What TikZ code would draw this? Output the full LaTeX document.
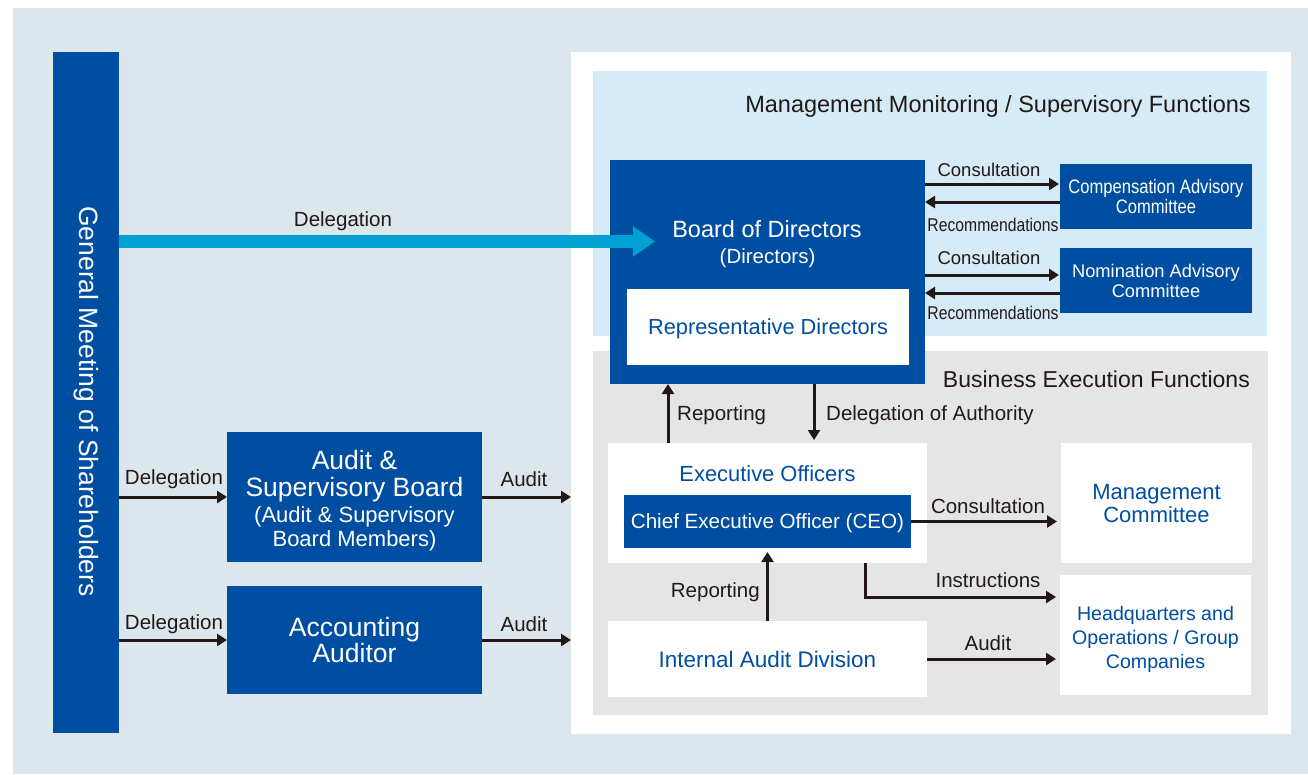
\documentclass[tikz,border=0pt]{standalone}
\usepackage{fontspec}
\setmainfont{Liberation Sans}
\newfontfamily\condfont{Liberation Sans}[FakeStretch=0.85]
\usetikzlibrary{arrows.meta}

\definecolor{pagebg}{HTML}{DCE6ED}
\definecolor{navy}{HTML}{004EA2}
\definecolor{paleblue}{HTML}{D5EBF8}
\definecolor{palegray}{HTML}{E5E5E5}
\definecolor{cyanarrow}{HTML}{00A0D2}
\definecolor{ink}{HTML}{231815}

\newcommand\fsz[2]{\fontsize{#1}{#2}\selectfont}

\tikzset{
  panel/.style={inner sep=0pt, outer sep=0pt, draw=none},
  navybox/.style={inner sep=0pt, outer sep=0pt, fill=navy, text=white, align=center, text depth=0pt},
  whitebox/.style={inner sep=0pt, outer sep=0pt, fill=white, text=navy, align=center, text depth=0pt},
  lbl/.style={text=ink, inner sep=0pt, font=\fsz{20.5}{22}},
  smalllbl/.style={text=ink, inner sep=0pt, font=\fsz{18.5}{20}},
  arr/.style={draw=ink, line width=3pt, -{Triangle[length=10pt,width=12pt]}},
  bigarr/.style={draw=cyanarrow, line width=13pt, -{Triangle[length=22pt,width=29pt]}},
}

\begin{document}
\begin{tikzpicture}[x=1pt, y=-1pt]
  \useasboundingbox (0,0) rectangle (1308,774);
  \fill[white] (0,0) rectangle (1308,774);
  \fill[pagebg] (13,8) rectangle (1308,774);

  % panels
  \node[panel, fill=white, minimum width=720pt, minimum height=682pt] (whitepanel) at (931,393) {};
  \node[panel, fill=paleblue, minimum width=674pt, minimum height=265pt] (bluepanel) at (930,203.5) {};
  \node[panel, fill=palegray, minimum width=675pt, minimum height=364pt] (graypanel) at (930.5,533) {};
  \node[text=ink, inner sep=0pt, anchor=east, font=\fsz{23.5}{25}] (montitle) at (1251,106) {Management Monitoring / Supervisory Functions};
  \node[text=ink, inner sep=0pt, anchor=east, font=\fsz{23}{25}] (exectitle) at (1250,379) {Business Execution Functions};

  % shareholders bar
  \node[navybox, minimum width=66pt, minimum height=681pt] (bar) at (86,392.5) {};
  \node[text=white, inner sep=0pt, rotate=-90, font=\fsz{26.5}{28}] (bartxt) at (86,401.5) {General Meeting of Shareholders};

  % board of directors
  \node[navybox, minimum width=315pt, minimum height=224pt] (board) at (767.5,272) {};
  \node[text=white, inner sep=0pt, text depth=0pt, font=\fsz{23.5}{26}] (boardtxt) at (767,229) {Board of Directors};
  \node[text=white, inner sep=0pt, text depth=0pt, font=\fsz{20.5}{24}] (boardsub) at (767.5,256) {(Directors)};
  \node[whitebox, minimum width=282pt, minimum height=76pt, font=\fsz{21.8}{24}] (repdir) at (768,327) {Representative Directors};

  % advisory committees
  \node[navybox, minimum width=192pt, minimum height=65pt, font=\condfont\fsz{19.5}{20.5}] (comp) at (1156,196.5) {Compensation Advisory\\Committee};
  \node[navybox, minimum width=192pt, minimum height=65pt, font=\fsz{18.3}{20}] (nom) at (1156,280.5) {Nomination Advisory\\Committee};

  % audit bodies
  \node[navybox, minimum width=255pt, minimum height=130pt] (asb) at (354.5,497) {};
  \node[text=white, inner sep=0pt, align=center, text depth=0pt, font=\fsz{26.5}{24}] (asbtxt) at (354.5,498.5)
    {\fsz{26.5}{24}Audit \&\\[3pt]\fsz{26.5}{24}Supervisory Board\\[2pt]\fsz{22}{24}(Audit \& Supervisory\\\fsz{22}{24}Board Members)};
  \node[navybox, minimum width=255pt, minimum height=108pt, font=\fsz{26.5}{26.5}] (acc) at (354.5,640) {Accounting\\Auditor};

  % execution side
  \node[whitebox, minimum width=319pt, minimum height=120pt] (exec) at (767.5,503) {};
  \node[text=navy, inner sep=0pt, text depth=0pt, font=\fsz{21.9}{24}] (exectxt) at (767.5,474) {Executive Officers};
  \node[navybox, minimum width=287pt, minimum height=53pt, font=\fsz{20.6}{22}] (ceo) at (767.5,521.5) {Chief Executive Officer (CEO)};
  \node[whitebox, minimum width=191pt, minimum height=120pt, font=\fsz{22}{23}] (mgmt) at (1156.5,503) {Management\\Committee};
  \node[whitebox, minimum width=191pt, minimum height=120pt] (hq) at (1155.5,635) {};
  \node[text=navy, inner sep=0pt, align=center, font=\fsz{19.6}{24}] (hqtxt) at (1155.5,639) {Headquarters and\\Operations / Group\\Companies};
  \node[whitebox, minimum width=319pt, minimum height=76pt, font=\fsz{22.5}{24}] (iad) at (767.5,659) {Internal Audit Division};

  % delegation from shareholders
  \coordinate (delegtip) at (655,241.5);
  \draw[bigarr] (bar.east |- delegtip) -- (delegtip);
  \node[lbl] (deleglbl) at (343,221) {Delegation};

  \draw[arr] (bar.east |- asb.west) -- (asb.west);
  \node[lbl] (delegasb) at (174,479) {Delegation};
  \draw[arr] (bar.east |- acc.west) -- (acc.west);
  \node[lbl] (delegacc) at (174,624) {Delegation};

  \draw[arr] (asb.east) -- (whitepanel.west |- asb.east);
  \node[lbl] (auditasb) at (524,479) {Audit};
  \draw[arr] (acc.east) -- (whitepanel.west |- acc.east);
  \node[lbl] (auditacc) at (524,624) {Audit};

  % board <-> advisory committees
  \draw[arr, shorten >=1pt] ([yshift=12.5pt]comp.west -| board.east) -- ([yshift=12.5pt]comp.west);
  \draw[arr] ([yshift=-5.5pt]comp.west) -- ([yshift=-5.5pt]comp.west -| board.east);
  \node[smalllbl] (conscomp) at (989,170) {Consultation};
  \node[smalllbl, font=\condfont\fsz{18.5}{20}] (reccomp) at (993,225) {Recommendations};

  \draw[arr, shorten >=1pt] ([yshift=5.5pt]nom.west -| board.east) -- ([yshift=5.5pt]nom.west);
  \draw[arr] ([yshift=-12.5pt]nom.west) -- ([yshift=-12.5pt]nom.west -| board.east);
  \node[smalllbl] (consnom) at (989,258) {Consultation};
  \node[smalllbl, font=\condfont\fsz{18.5}{20}] (recnom) at (993,313) {Recommendations};

  % board <-> executive officers
  \draw[arr] ([xshift=-99.5pt]exec.north) -- ([xshift=-99.5pt]exec.north |- board.south);
  \node[lbl, anchor=west] (repup) at (677,415) {Reporting};
  \draw[arr, shorten >=3pt] ([xshift=46.5pt]exec.north |- board.south) -- ([xshift=46.5pt]exec.north);
  \node[lbl, anchor=west] (delauth) at (826,415) {Delegation of Authority};

  % executive officers -> committees and companies
  \draw[arr, shorten >=4pt] (ceo.east) -- (ceo.east -| mgmt.west);
  \node[lbl] (consmgmt) at (988,506) {Consultation};
  \draw[arr, shorten >=4pt] ([xshift=97.5pt]exec.south) |- ([yshift=38pt]hq.west);
  \node[lbl] (instr) at (988,580) {Instructions};

  % internal audit
  \draw[arr, shorten >=4pt] (iad.north) -- (ceo.south);
  \node[lbl, anchor=east] (repiad) at (760,592) {Reporting};
  \draw[arr, shorten >=4pt] (iad.east) -- (iad.east -| hq.west);
  \node[lbl] (auditiad) at (988,643) {Audit};
\end{tikzpicture}
\end{document}
